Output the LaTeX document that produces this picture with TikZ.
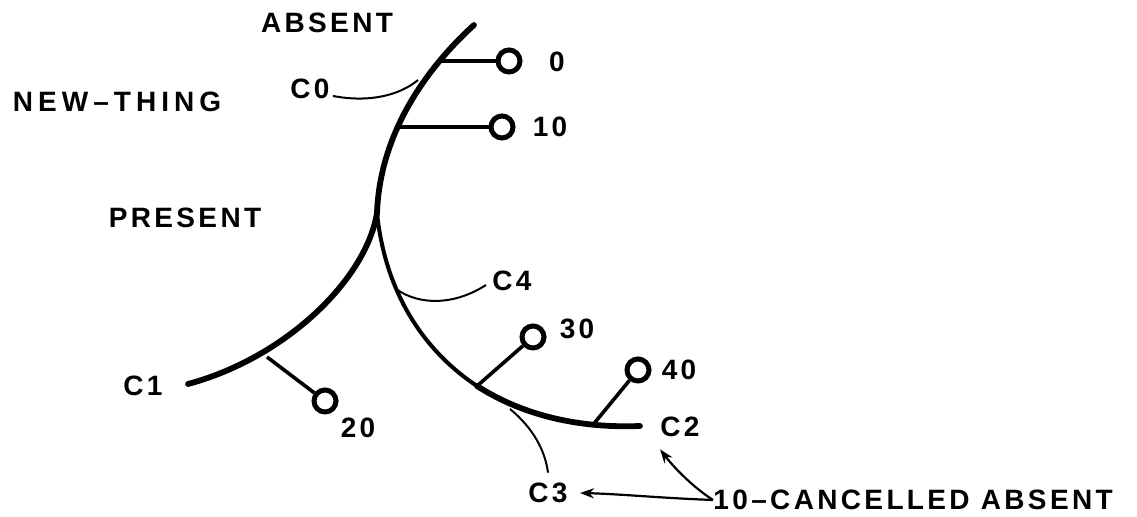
\documentclass[tikz,border=0pt]{standalone}
\usepackage{fontspec}
\newfontfamily\labfont{Liberation Sans}[LetterSpace=12]
\newfontfamily\widefont{Liberation Sans}[LetterSpace=18]
\usetikzlibrary{arrows.meta}
\tikzset{
  lab/.style={font=\labfont\bfseries\fontsize{14}{16}\selectfont, inner sep=0pt, text=black},
  widelab/.style={lab, font=\widefont\bfseries\fontsize{14}{16}\selectfont},
  ring/.style={circle, draw, line width=2.5pt, minimum size=11pt, inner sep=0pt, fill=white},
  stem/.style={line width=1.8pt},
  thin/.style={line width=1pt},
  main/.style={line width=2.9pt, line cap=round},
  branch/.style={line width=2pt, line cap=round},
  pointer/.style={line width=1.1pt, -{Stealth[length=7pt,width=5pt]}}
}
\begin{document}
\begin{tikzpicture}[x=0.5pt,y=-0.5pt]
\useasboundingbox (0,0) rectangle (1137,517);
% labels
\node[lab] (absent) at (327,23) {ABSENT};
\node[widelab] (newthing) at (117,102) {NEW–THING};
\node[lab] (present) at (185,218) {PRESENT};
\node[lab] (c0) at (310,89) {C0};
\node[lab] (c1) at (143,386) {C1};
\node[lab] (c2) at (680,427) {C2};
\node[lab] (c3) at (548,493) {C3};
\node[lab] (c4) at (512,281) {C4};
\node[lab] (l0) at (557,62) {0};
\node[lab] (l10) at (550,127) {10};
\node[lab] (l20) at (358,428) {20};
\node[lab] (l30) at (577,329) {30};
\node[lab] (l40) at (679,370) {40};
\node[lab, anchor=west] (cancel) at (713,500) {10–CANCELLED ABSENT};
% junction coordinates
\coordinate (top) at (474,25);
\coordinate (cusp) at (377,213);
\coordinate (lend) at (188,384);
\coordinate (rmid) at (477,386);
\coordinate (rend) at (640,426);
\coordinate (j0) at (437,61);
\coordinate (j10) at (398,127);
\coordinate (jc0) at (418,80);
\coordinate (j20) at (267,357);
\coordinate (jc4) at (396,289);
\coordinate (jc3) at (510,409);
\coordinate (j40) at (592,426);
% main curves
\draw[main] (top) .. controls (430,65) and (380,130) .. (cusp);
\draw[main] (cusp) .. controls (366,280) and (285,358) .. (lend);
\draw[branch] (cusp) .. controls (386,300) and (430,355) .. (rmid);
\draw[main] (rmid) .. controls (530,420) and (590,428) .. (rend);
% thin connectors to labels
\draw[thin] (c0.east) ++(3,7) .. controls (370,103) and (400,95) .. (jc0);
\draw[thin] (jc4) .. controls (420,306) and (455,305) .. ([xshift=-3pt,yshift=-2pt]c4.west);
\draw[thin] (jc3) .. controls (533,428) and (545,450) .. ([yshift=5pt]c3.north);
% rings and stems
\node[ring] (r0) at (509,61) {};
\node[ring] (r10) at (502,127) {};
\node[ring] (r20) at (325,401) {};
\node[ring] (r30) at (533,337) {};
\node[ring] (r40) at (638,370) {};
\draw[stem] (j0) -- (r0);
\draw[stem] (j10) -- (r10);
\draw[stem] (j20) -- (r20);
\draw[stem] (rmid) -- (r30);
\draw[stem] (j40) -- (r40);
% arrows
\draw[pointer] (cancel.west) .. controls (660,498) and (620,494) .. ([xshift=6pt]c3.east);
\draw[pointer] (cancel.west) .. controls (690,485) and (672,465) .. ([yshift=-6pt]c2.south west);
\end{tikzpicture}
\end{document}
